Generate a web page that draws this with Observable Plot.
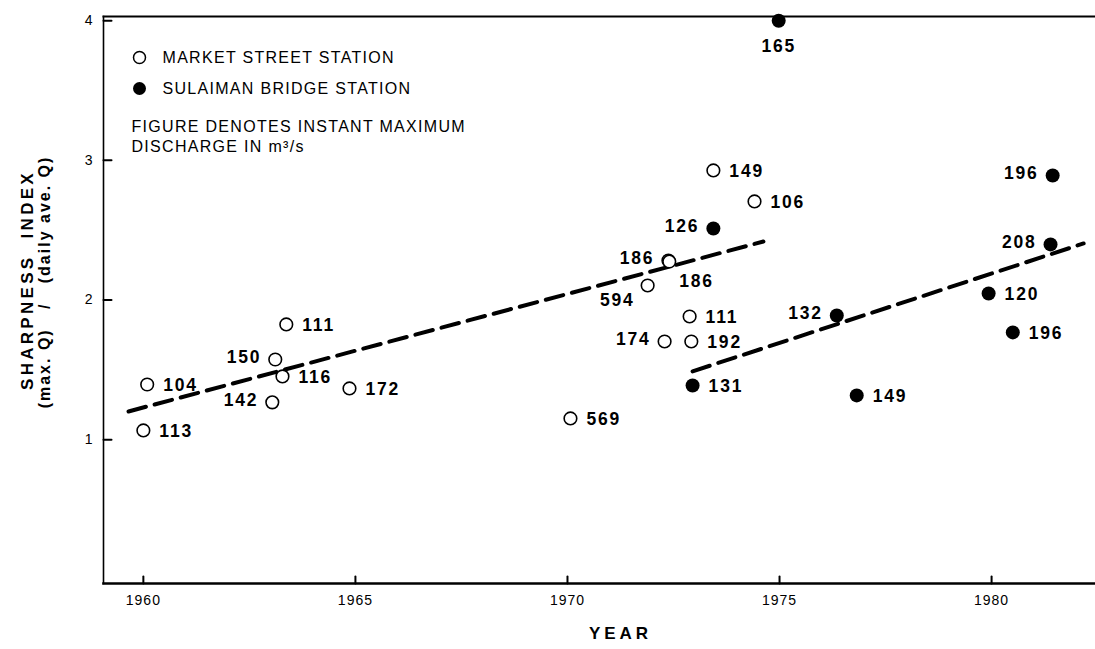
<!DOCTYPE html>
<html><head><meta charset="utf-8">
<script src="https://cdn.jsdelivr.net/npm/d3@7"></script>
<script src="https://cdn.jsdelivr.net/npm/@observablehq/plot@0.6"></script>
<style>
body{margin:0;background:#fff;}
#chart svg{display:block;font-family:"Liberation Sans",Arial,sans-serif;}
.lbl text{letter-spacing:1.8px;}
.leg text{letter-spacing:1.3px;}
.xtitle text{letter-spacing:4px;}
.ytitle1 text{letter-spacing:3.3px;}
.ytitle2 text{letter-spacing:2px;}
.xtick text{letter-spacing:1px;}
</style>
</head><body><div id="chart"></div>
<script>
// Market Street Station (open circles)
const marketYear  = [1960.09, 1960.00, 1963.11, 1963.28, 1963.04, 1963.37, 1964.86, 1970.07, 1971.89, 1972.38, 1972.40, 1973.44, 1974.41, 1972.88, 1972.29, 1972.92];
const marketIndex = [1.395, 1.066, 1.574, 1.453, 1.267, 1.825, 1.367, 1.152, 2.104, 2.283, 2.275, 2.928, 2.706, 1.882, 1.703, 1.703];
const marketQ     = ["104", "113", "150", "116", "142", "111", "172", "569", "594", "186", "186", "149", "106", "111", "174", "192"];
// Sulaiman Bridge Station (filled circles)
const sulaimanYear  = [1974.98, 1973.44, 1972.95, 1976.35, 1976.82, 1979.93, 1980.50, 1981.39, 1981.44];
const sulaimanIndex = [4.00, 2.512, 1.388, 1.889, 1.317, 2.047, 1.768, 2.398, 2.892];
const sulaimanQ     = ["165", "126", "131", "132", "149", "120", "196", "208", "196"];
// trend lines (dashed)
const trendMarketYear  = [1959.65, 1974.62];
const trendMarketIndex = [1.202, 2.419];
const trendSulaimanYear  = [1972.95, 1982.17];
const trendSulaimanIndex = [1.489, 2.405];
// ticks
const xTicks = [1960, 1965, 1970, 1975, 1980];
const yTicks = [1, 2, 3, 4];

// label placement (style, kept separate from data)
const marketSide   = ["r","r","l","r","l","r","r","r","bl","l","br","r","r","r","l","r"];
const sulaimanSide = ["b","l","r","l","r","r","r","l","l"];
const sideStyle = {
  r:  {dx: 16,  dy: 1,  textAnchor: "start"},
  l:  {dx: -14, dy: -2, textAnchor: "end"},
  b:  {dx: 0,   dy: 26, textAnchor: "middle"},
  br: {dx: 10,  dy: 20, textAnchor: "start"},
  bl: {dx: -13, dy: 15, textAnchor: "end"}
};

const market = marketYear.map((x, i) => ({x, y: marketIndex[i], q: marketQ[i], side: marketSide[i]}));
const sulaiman = sulaimanYear.map((x, i) => ({x, y: sulaimanIndex[i], q: sulaimanQ[i], side: sulaimanSide[i]}));
const trendM = trendMarketYear.map((x, i) => ({x, y: trendMarketIndex[i]}));
const trendS = trendSulaimanYear.map((x, i) => ({x, y: trendSulaimanIndex[i]}));

const labelFont = {fontSize: 17.5, fontWeight: "bold", fill: "#000", lineAnchor: "middle", className: "lbl"};
function labels(data) {
  return Object.keys(sideStyle).map(s =>
    Plot.text(data.filter(d => d.side === s), {x: "x", y: "y", text: "q", ...labelFont, ...sideStyle[s]}));
}
const legendFont = {frameAnchor: "top-left", textAnchor: "start", lineAnchor: "middle", fontSize: 16, fill: "#000", className: "leg"};
const tickShape = {draw(context, l) { context.moveTo(0, 0); context.lineTo(0, -l); }};

const chart = Plot.plot({
  width: 1095, height: 649,
  marginTop: 16, marginBottom: 66, marginLeft: 103, marginRight: 0,
  style: {fontFamily: "'Liberation Sans', Arial, sans-serif", color: "#000", background: "#fff"},
  x: {domain: [1959.06, 1982.45]},
  y: {domain: [-0.03, 4.03]},
  marks: [
    Plot.frame({anchor: "top", strokeWidth: 2}),
    Plot.frame({anchor: "left", strokeWidth: 1.6}),
    Plot.frame({anchor: "bottom", strokeWidth: 2.6}),
    // short inward tick marks
    Plot.vector(yTicks, {y: d => d, frameAnchor: "left", rotate: 90, length: 8, anchor: "start", shape: tickShape, stroke: "#000", strokeWidth: 2}),
    Plot.vector(xTicks, {x: d => d, frameAnchor: "bottom", rotate: 0, length: 7, anchor: "start", shape: tickShape, stroke: "#000", strokeWidth: 2}),
    Plot.axisY({ticks: yTicks, tickSize: 0, tickPadding: 11, fontSize: 14, tickFormat: d => String(d), label: null}),
    Plot.axisX({ticks: xTicks, tickSize: 0, tickPadding: 12, fontSize: 14, tickFormat: d => String(d), label: null, className: "xtick"}),
    Plot.line(trendM, {x: "x", y: "y", stroke: "#000", strokeWidth: 4, strokeDasharray: "18,9"}),
    Plot.line(trendS, {x: "x", y: "y", stroke: "#000", strokeWidth: 4, strokeDasharray: "18,9"}),
    Plot.dot(market, {x: "x", y: "y", r: 6.3, stroke: "#000", strokeWidth: 1.6, fill: "#fff"}),
    Plot.dot(sulaiman, {x: "x", y: "y", r: 7, fill: "#000"}),
    ...labels(market),
    ...labels(sulaiman),
    // legend
    Plot.dot([0], {frameAnchor: "top-left", dx: 36, dy: 41, r: 6, stroke: "#000", strokeWidth: 1.5, fill: "#fff"}),
    Plot.dot([0], {frameAnchor: "top-left", dx: 36, dy: 72, r: 6.5, fill: "#000"}),
    Plot.text(["MARKET STREET STATION"], {...legendFont, dx: 59, dy: 41}),
    Plot.text(["SULAIMAN BRIDGE STATION"], {...legendFont, dx: 59, dy: 72}),
    Plot.text(["FIGURE DENOTES INSTANT MAXIMUM"], {...legendFont, dx: 28, dy: 110}),
    Plot.text(["DISCHARGE IN m³/s"], {...legendFont, dx: 28, dy: 130}),
    // axis titles
    Plot.text(["YEAR"], {frameAnchor: "bottom", textAnchor: "middle", dx: 21, dy: 50, lineAnchor: "middle", fontSize: 17, fontWeight: "bold", fill: "#000", className: "xtitle"}),
    Plot.text(["SHARPNESS  INDEX"], {frameAnchor: "left", textAnchor: "middle", dx: -76, dy: -20, rotate: -90, lineAnchor: "middle", fontSize: 17, fontWeight: "bold", fill: "#000", className: "ytitle1"}),
    Plot.text(["(max. Q)   /   (daily ave. Q)"], {frameAnchor: "left", textAnchor: "middle", dx: -59, dy: -18, rotate: -90, lineAnchor: "middle", fontSize: 16, fontWeight: "bold", fill: "#000", className: "ytitle2"})
  ]
});
document.getElementById("chart").appendChild(chart);
</script>
</body></html>
